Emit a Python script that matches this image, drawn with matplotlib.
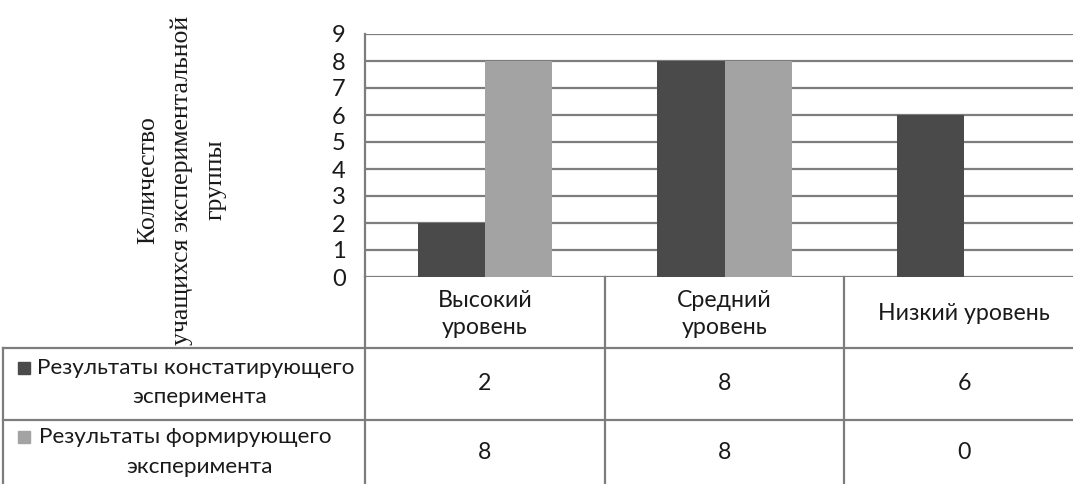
import matplotlib
matplotlib.use("Agg")
import matplotlib.pyplot as plt
import numpy as np

# ---- data ----
categories = ["Высокий\nуровень", "Средний\nуровень", "Низкий уровень"]
series_names = [["Результаты констатирующего", "эсперимента"],
                ["Результаты формирующего", "эксперимента"]]
ascertaining = [2, 8, 6]
formative = [8, 8, 0]
y_ticks = [0, 1, 2, 3, 4, 5, 6, 7, 8, 9]
y_label = "Количество\nучащихся экспериментальной\nгруппы"

dark = "#4a4a4a"
light = "#a3a3a3"
grid_c = "#7d7d7d"
txt_c = "#1a1a1a"
sans = ["Lato", "DejaVu Sans"]
serif = ["Liberation Serif", "DejaVu Serif"]

fig = plt.figure(figsize=(10.73, 4.84), dpi=100)
W, H = 1073.0, 484.0
ax_left, ax_right, ax_top, ax_bot = 365.0, 1084.0, 34.0, 277.0
ax = fig.add_axes([ax_left / W, (H - ax_bot) / H, (ax_right - ax_left) / W, (ax_bot - ax_top) / H])

x = np.arange(len(categories))
bw = 0.28
ax.bar(x - bw / 2, ascertaining, width=bw, color=dark, zorder=3)
ax.bar(x + bw / 2, formative, width=bw, color=light, zorder=3)

ax.set_xlim(-0.5, 2.5)
ax.set_ylim(0, 9)
ax.set_yticks(y_ticks)
ax.set_yticklabels([str(t) for t in y_ticks], family=sans, fontsize=17, color=txt_c)
ax.tick_params(axis="y", length=0, pad=14)
ax.set_xticks([])
ax.yaxis.grid(True, color=grid_c, lw=1.6, zorder=1)
ax.set_axisbelow(True)
for s in ["top", "right", "bottom"]:
    ax.spines[s].set_visible(False)
ax.spines["left"].set_color(grid_c)
ax.spines["left"].set_linewidth(1.6)

# axis label
ax.text((182 - ax_left) / (ax_right - ax_left), (ax_bot - 180) / (ax_bot - ax_top), y_label,
        transform=ax.transAxes, rotation=90, ha="center", va="center",
        family=serif, fontsize=18.5, linespacing=1.65, color=txt_c)

# ---- data table ----
unit = (ax_right - ax_left) / 3.0
def px2x(px):
    return (px - ax_left) / unit - 0.5
def py2y(py):
    return (ax_bot - py) / (ax_bot - ax_top)

tr = ax.get_xaxis_transform()
line_kw = dict(color=grid_c, lw=1.6, clip_on=False, transform=tr, zorder=2)
y_head, y_r1, y_bottom = py2y(348), py2y(420), py2y(500)
x_far_left, x_far_right = px2x(3), 2.6
ax.plot([x_far_left, x_far_right], [y_head, y_head], **line_kw)
ax.plot([x_far_left, x_far_right], [y_r1, y_r1], **line_kw)
ax.plot([x_far_left, x_far_left], [y_head, y_bottom], **line_kw)
for b in [-0.5, 0.5, 1.5]:
    ax.plot([b, b], [0, y_bottom], **line_kw)

fs = 16.7
fs_row = 16.2
# header cells
for xi, cat in zip(x, categories):
    ax.text(xi, py2y(314), cat, transform=tr, ha="center", va="center",
            family=sans, fontsize=fs, linespacing=1.35, clip_on=False, color=txt_c)

# value cells
for xi, v1, v2 in zip(x, ascertaining, formative):
    ax.text(xi, py2y(384), str(v1), transform=tr, ha="center", va="center",
            family=sans, fontsize=fs, clip_on=False, color=txt_c)
    ax.text(xi, py2y(452), str(v2), transform=tr, ha="center", va="center",
            family=sans, fontsize=fs, clip_on=False, color=txt_c)

# row labels with legend keys
row_specs = [(series_names[0], dark, [(196, 368), (200, 397)], (24, 368)),
             (series_names[1], light, [(185, 437), (200, 467)], (24, 437))]
for lines, col, pos, key in row_specs:
    for txt, (px, py) in zip(lines, pos):
        ax.text(px2x(px), py2y(py), txt, transform=tr, ha="center", va="center",
                family=sans, fontsize=fs_row, clip_on=False, color=txt_c)
    ax.plot([px2x(key[0])], [py2y(key[1])], marker="s", markersize=8, color=col,
            transform=tr, clip_on=False, linestyle="none")

fig.savefig("out.png", dpi=100)
